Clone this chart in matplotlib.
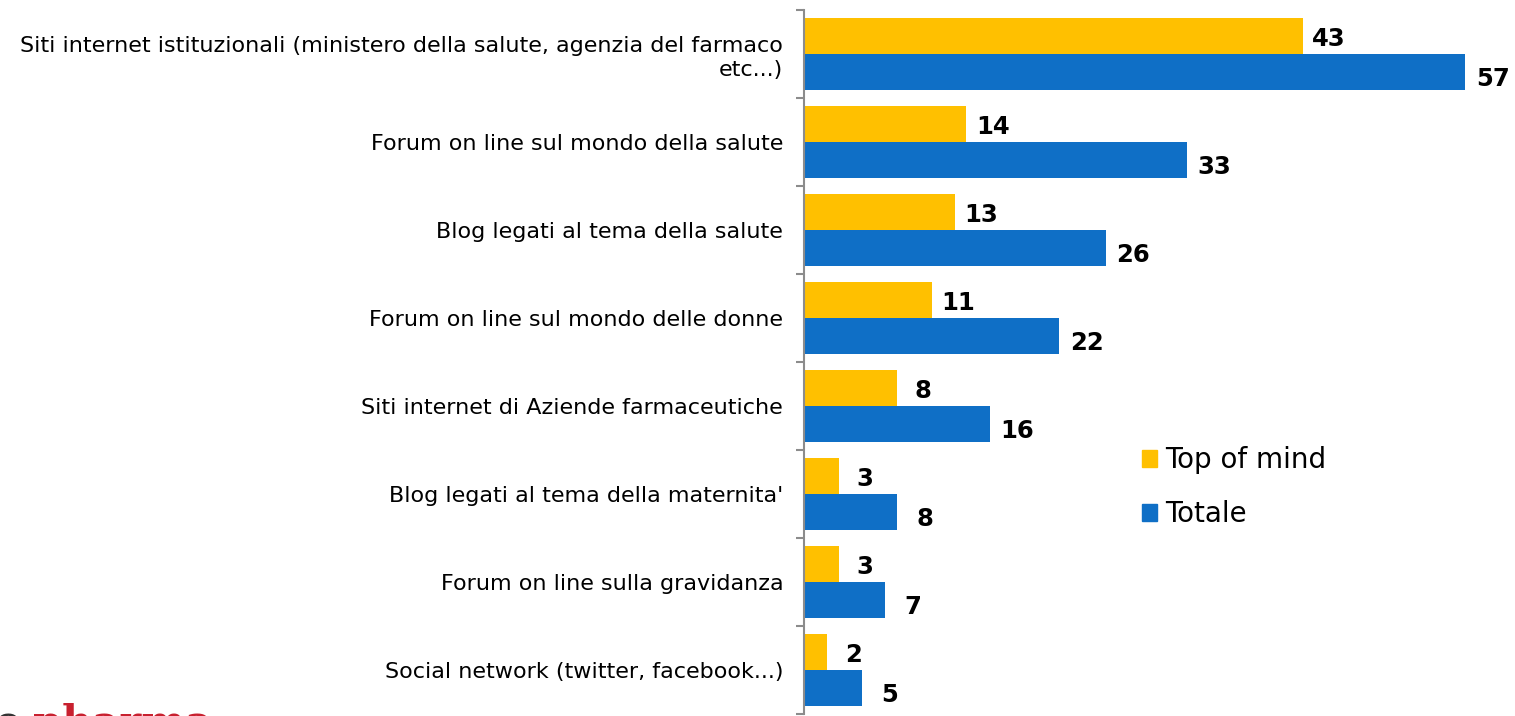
import numpy as np
import matplotlib
matplotlib.use("Agg")
import matplotlib.pyplot as plt
from matplotlib.patches import Patch

# ------------------------------------------------------------------
# data (top to bottom)
# ------------------------------------------------------------------
categories = [
    "Siti internet istituzionali (ministero della salute, agenzia del farmaco\netc...)",
    "Forum on line sul mondo della salute",
    "Blog legati al tema della salute",
    "Forum on line sul mondo delle donne",
    "Siti internet di Aziende farmaceutiche",
    "Blog legati al tema della maternita'",
    "Forum on line sulla gravidanza",
    "Social network (twitter, facebook...)",
]
top_of_mind = [43, 14, 13, 11, 8, 3, 3, 2]
totale = [57, 33, 26, 22, 16, 8, 7, 5]
series_names = ["Top of mind", "Totale"]

YELLOW = "#FFC000"
BLUE = "#0F6FC6"
GREY = "#8C8C8C"

plt.rcParams['font.family'] = ['DejaVu Sans']

fig = plt.figure(figsize=(15.15, 7.16), dpi=100)
# axes placed in figure fractions (left spine at ~804 px)
ax = fig.add_axes([804 / 1515, 1 - 714 / 716, 1 - 804 / 1515, 704 / 716])

y = np.arange(len(categories))
h = 0.41
ax.barh(y - h / 2, top_of_mind, height=h, color=YELLOW, label=series_names[0])
ax.barh(y + h / 2, totale, height=h, color=BLUE, label=series_names[1])

ax.set_xlim(0, 61.3)
ax.set_ylim(len(categories) - 0.5, -0.5)

# value labels, centred a fixed distance past the bar end
for i, (a, b) in enumerate(zip(top_of_mind, totale)):
    ax.annotate(str(a), (a, i - h / 2), xytext=(19, -2), textcoords="offset points",
                ha="center", va="center", fontsize=17.5, fontweight="bold")
    ax.annotate(str(b), (b, i + h / 2), xytext=(20, -5), textcoords="offset points",
                ha="center", va="center", fontsize=17.5, fontweight="bold")

# category labels centred on each group
ax.set_yticks(y)
ax.set_yticklabels(categories, fontsize=16, ha="right", linespacing=1.25)
ax.tick_params(axis="y", which="major", length=0, pad=15)
# boundary tick marks
ax.set_yticks(np.arange(len(categories) + 1) - 0.5, minor=True)
ax.tick_params(axis="y", which="minor", length=6, width=1.5, color=GREY, direction="out")

ax.set_xticks([])
for s in ["top", "right", "bottom"]:
    ax.spines[s].set_visible(False)
ax.spines["left"].set_color(GREY)
ax.spines["left"].set_linewidth(1.5)
ax.patch.set_alpha(0)

handles = [Patch(color=YELLOW, label=series_names[0]), Patch(color=BLUE, label=series_names[1])]
fig.legend(handles=handles, loc="upper left", bbox_to_anchor=(1117 / 1515, 1 - 421 / 716),
           frameon=False, fontsize=20, handlelength=0.55, handleheight=0.55,
           handletextpad=0.3, labelspacing=0.95)

# partially cropped logo at the bottom-left corner (only the top edge is visible)
fig.text(-0.004, -0.041, "e", color="#333333", fontsize=30, fontweight="bold",
         family="DejaVu Serif", va="bottom")
fig.text(0.022, -0.041, "pharma", color="#C8202F", fontsize=30, fontweight="bold",
         family="DejaVu Serif", va="bottom")

fig.savefig("out.png", dpi=100)
